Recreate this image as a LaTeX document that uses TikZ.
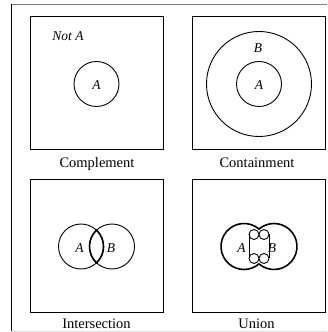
\documentclass[tikz,border=0pt]{standalone}
\usepackage{fontspec}
\setmainfont{Liberation Serif}
\usepackage{tikz}
\usetikzlibrary{calc}

\begin{document}
\begin{tikzpicture}[x=1pt,y=1pt,
  panel/.style={line width=1pt},
  set/.style={line width=0.9pt},
  bold/.style={line width=1.6pt},
  caption/.style={anchor=base,inner sep=0pt,font=\fontsize{14.5}{16}\selectfont},
  setname/.style={inner sep=0pt,font=\fontsize{13.5}{15}\selectfont\itshape}]
\useasboundingbox (0,0) rectangle (327,332);
\draw [line width=1.3pt,black!50] (11,327.5) -- (327,327.5);
\draw [line width=0.8pt] (11,327.5) -- (11,0);
\draw [black!12] (11,1) -- (327,1);
% panels
\draw [panel] (30,182) rectangle (163,315) (192,182) rectangle (325.5,315);
\draw [panel] (30,19) rectangle (163,152) (192,19) rectangle (325.5,152);
\node [caption] (complement) at (97,164) {Complement};
\node [caption] (containment) at (257,164) {Containment};
\node [caption] (intersection) at (96.5,3.5) {Intersection};
\node [caption] (union) at (256.5,3.5) {Union};
% complement
\draw [set] (96.5,248) circle [radius=22.5];
\node [setname] (notA) at (68,296) {Not A};
\node [setname] (cA) at (96.5,247) {A};
% containment
\draw [set] (259,248) circle [radius=22.5] (259,248) circle [radius=52.5];
\node [setname] (kA) at (259,247) {A};
\node [setname] (kB) at (258,284) {B};
% intersection
\draw [set] (81,85.5) circle [radius=22.5] (112,85.5) circle [radius=22.5];
\draw [bold] (96.5,101.81) arc [start angle=133.54,end angle=226.46,radius=22.5]
  arc [start angle=-46.46,end angle=46.46,radius=22.5] -- cycle;
\node [setname] (iA) at (79.5,84) {A};
\node [setname] (iB) at (111,84) {B};
% union
\draw [bold] (259,102.94) arc [start angle=49.3,end angle=310.7,radius=23]
  arc [start angle=229.3,end angle=490.7,radius=23] -- cycle;
\draw [set] (254,97.5) circle [radius=5] (264,97.5) circle [radius=5]
  (254,73.5) circle [radius=5] (264,73.5) circle [radius=5];
\draw [set] (249,97.5) -- (249,73.5) (269,97.5) -- (269,73.5);
\node [setname] (uA) at (241.5,84) {A};
\node [setname] (uB) at (272,84) {B};
\end{tikzpicture}
\end{document}
